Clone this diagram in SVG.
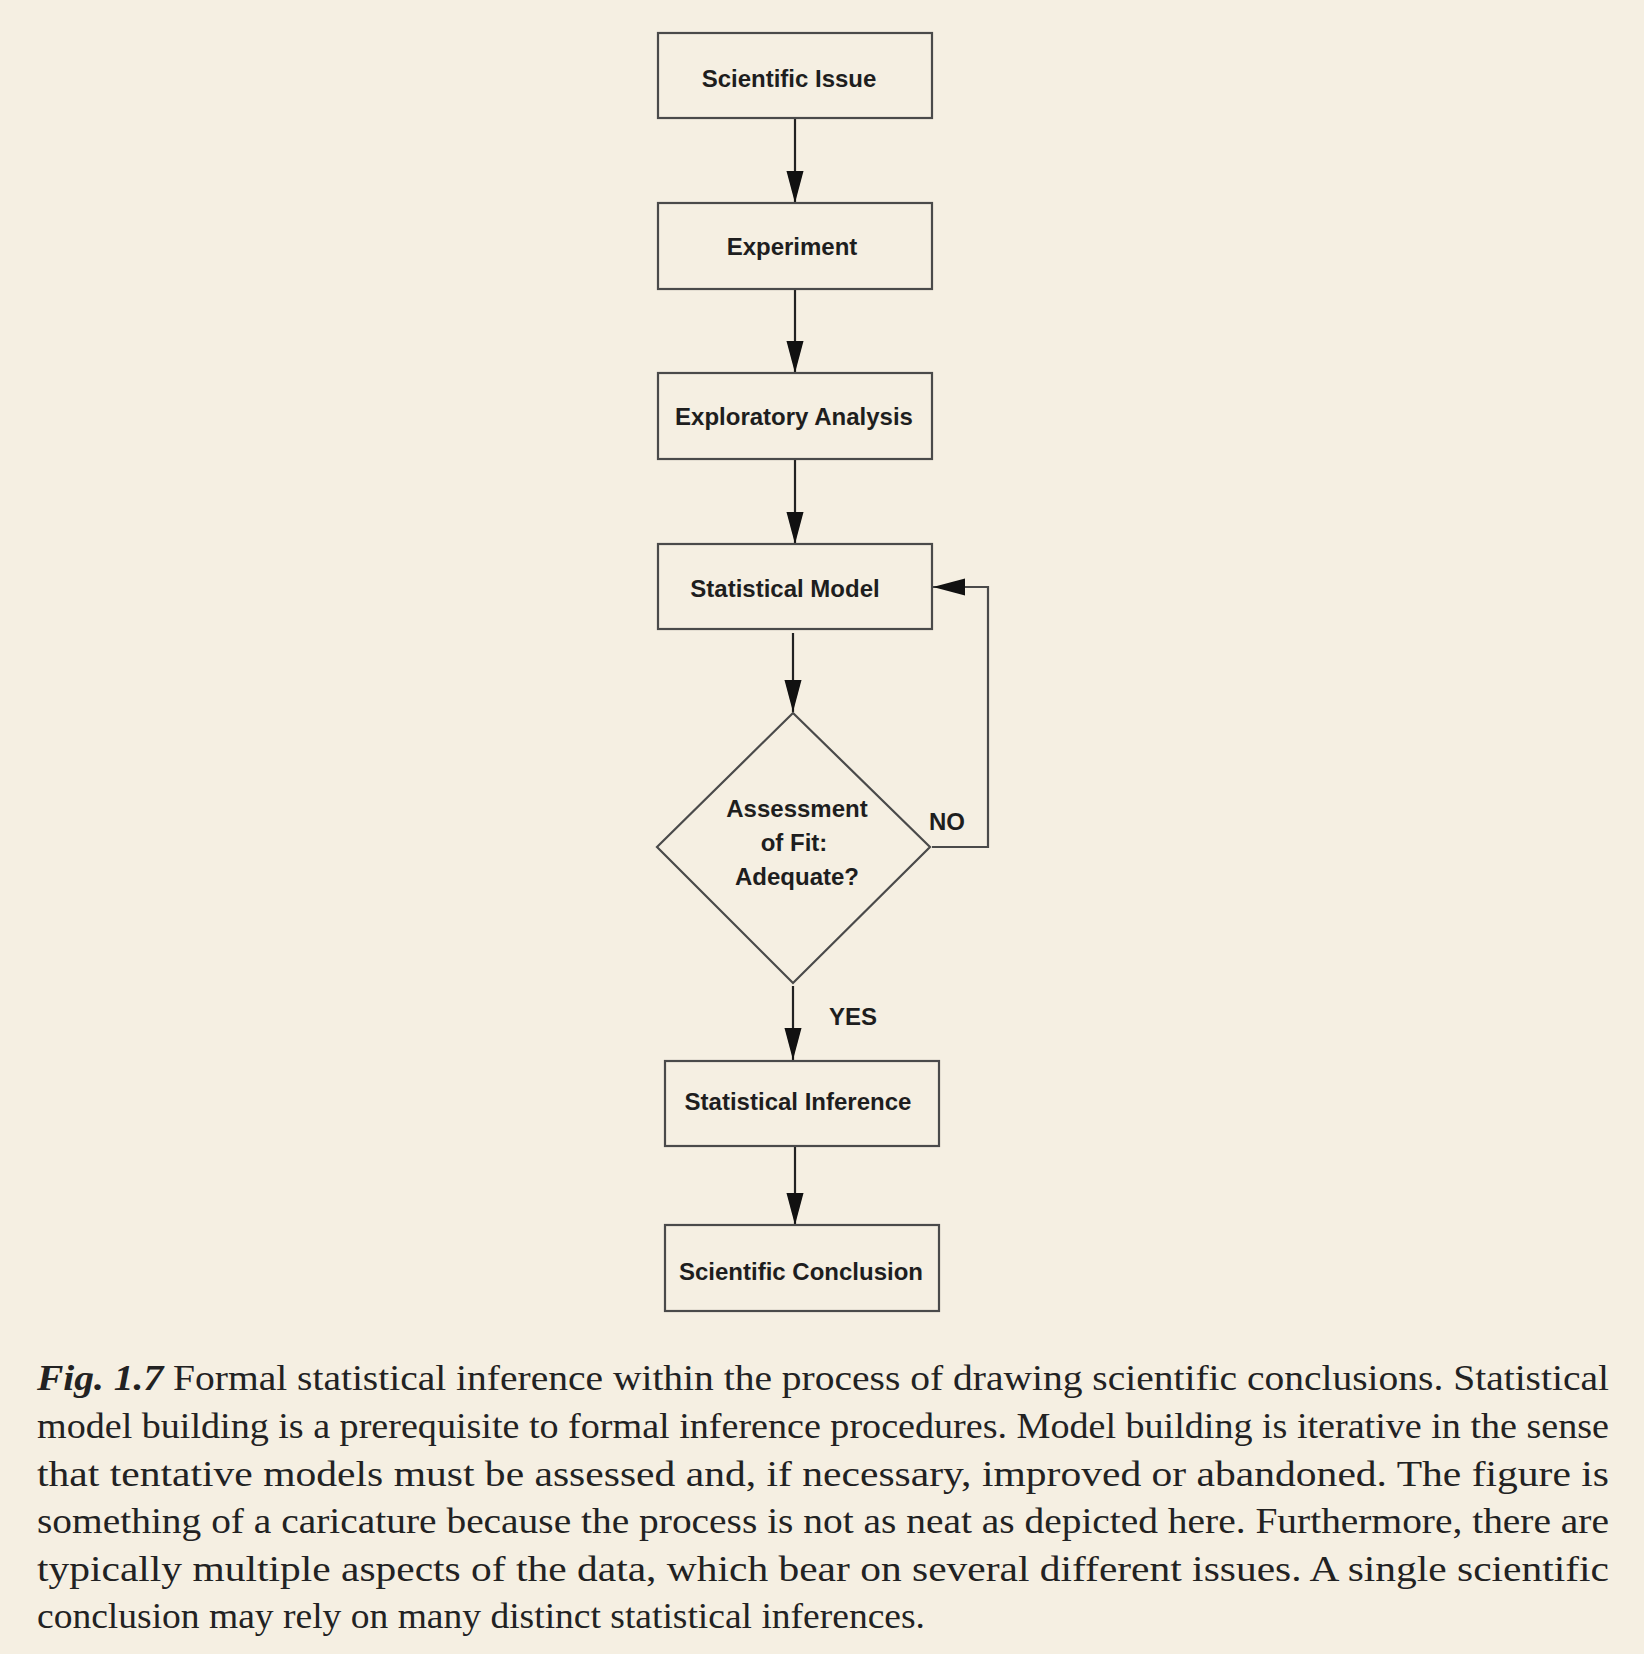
<svg xmlns="http://www.w3.org/2000/svg" width="1644" height="1654" viewBox="0 0 1644 1654">
<defs>
<style>
.box{fill:none;stroke:#4a4a4a;stroke-width:2.2}
.lbl{font-family:"Liberation Sans",Arial,sans-serif;font-weight:bold;font-size:24px;fill:#1e1e1e;text-anchor:middle}
.edge{fill:none;stroke:#222;stroke-width:2.2}
.fb{fill:none;stroke:#4a4a4a;stroke-width:2.2}
.cap{font-family:"Liberation Serif","Times New Roman",serif;font-size:36px;fill:#222}
</style>
<marker id="ah" markerUnits="userSpaceOnUse" markerWidth="32" markerHeight="18" viewBox="0 0 30 16" refX="30" refY="8" orient="auto">
<path d="M0,0 L30,8 L0,16 Z" fill="#111"/>
</marker>
</defs>
<rect width="1644" height="1654" fill="#f5efe2"/>
<g id="connectors">
<line class="edge" x1="795" y1="118" x2="795" y2="203" marker-end="url(#ah)"/>
<line class="edge" x1="795" y1="289" x2="795" y2="373" marker-end="url(#ah)"/>
<line class="edge" x1="795" y1="459" x2="795" y2="544" marker-end="url(#ah)"/>
<line class="edge" x1="793" y1="633" x2="793" y2="712" marker-end="url(#ah)"/>
<line class="edge" x1="793" y1="986" x2="793" y2="1060" marker-end="url(#ah)"/>
<line class="edge" x1="795" y1="1146" x2="795" y2="1225" marker-end="url(#ah)"/>
<polyline class="fb" points="932,847 988,847 988,587 933,587" marker-end="url(#ah)"/>
<text class="lbl" x="947" y="830">NO</text>
<text class="lbl" x="853" y="1025">YES</text>
</g>
<g id="n1"><rect class="box" x="658" y="33" width="274" height="85"/><text class="lbl" x="789" y="87">Scientific Issue</text></g>
<g id="n2"><rect class="box" x="658" y="203" width="274" height="86"/><text class="lbl" x="792" y="255">Experiment</text></g>
<g id="n3"><rect class="box" x="658" y="373" width="274" height="86"/><text class="lbl" x="794" y="425">Exploratory Analysis</text></g>
<g id="n4"><rect class="box" x="658" y="544" width="274" height="85"/><text class="lbl" x="785" y="597">Statistical Model</text></g>
<g id="n5"><polygon class="box" points="793,713 930,847 793,983 657,847"/>
<text class="lbl" x="797" y="817">Assessment</text>
<text class="lbl" x="794" y="851">of Fit:</text>
<text class="lbl" x="797" y="885">Adequate?</text></g>
<g id="n6"><rect class="box" x="665" y="1061" width="274" height="85"/><text class="lbl" x="798" y="1110">Statistical Inference</text></g>
<g id="n7"><rect class="box" x="665" y="1225" width="274" height="86"/><text class="lbl" x="801" y="1280">Scientific Conclusion</text></g>
<g id="caption">
<text class="cap" x="37" y="1390" textLength="1572" lengthAdjust="spacingAndGlyphs"><tspan font-weight="bold" font-style="italic">Fig. 1.7</tspan> Formal statistical inference within the process of drawing scientific conclusions. Statistical</text>
<text class="cap" x="37" y="1438" textLength="1572" lengthAdjust="spacingAndGlyphs">model building is a prerequisite to formal inference procedures. Model building is iterative in the sense</text>
<text class="cap" x="37" y="1486" textLength="1572" lengthAdjust="spacingAndGlyphs">that tentative models must be assessed and, if necessary, improved or abandoned. The figure is</text>
<text class="cap" x="37" y="1533" textLength="1572" lengthAdjust="spacingAndGlyphs">something of a caricature because the process is not as neat as depicted here. Furthermore, there are</text>
<text class="cap" x="37" y="1581" textLength="1572" lengthAdjust="spacingAndGlyphs">typically multiple aspects of the data, which bear on several different issues. A single scientific</text>
<text class="cap" x="37" y="1628" textLength="888" lengthAdjust="spacingAndGlyphs">conclusion may rely on many distinct statistical inferences.</text>
</g>
</svg>
